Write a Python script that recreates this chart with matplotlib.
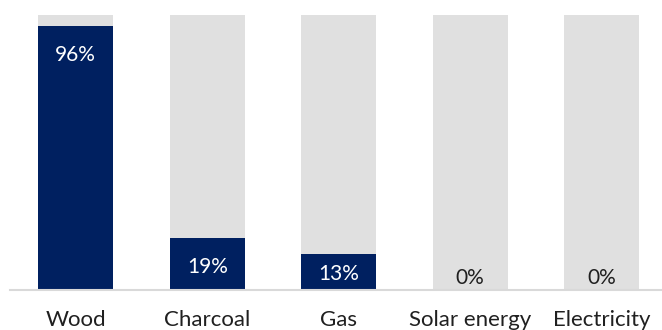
import matplotlib
matplotlib.use('Agg')
import matplotlib.pyplot as plt

categories = ['Wood', 'Charcoal', 'Gas', 'Solar energy', 'Electricity']
shares = [96, 19, 13, 0, 0]
full = [100, 100, 100, 100, 100]

navy = '#002060'
grey = '#e0e0e0'

plt.rcParams['font.family'] = ['Lato', 'DejaVu Sans']

fig = plt.figure(figsize=(6.62, 3.30), dpi=100)
# axes spans from the baseline up to the top of the background bars
ax = fig.add_axes([10 / 662, 40 / 330, 657.5 / 662, 275 / 330])

x = range(len(categories))
ax.bar(x, full, width=0.57, color=grey, zorder=1)
ax.bar(x, shares, width=0.57, color=navy, zorder=2)

for i, v in enumerate(shares):
    if v > 0:
        ax.text(i, max(v - 10.5, 6), '%d%%' % v, ha='center', va='center',
                color='white', fontsize=15, zorder=3)
    else:
        ax.text(i, 4.5, '%d%%' % v, ha='center', va='center',
                color='#202020', fontsize=15, zorder=3)

ax.set_xlim(-0.5, len(categories) - 0.5)
ax.set_ylim(0, 100)
ax.set_xticks(list(x))
ax.set_xticklabels(categories, fontsize=16, color='#202020')
ax.tick_params(axis='x', length=0, pad=14.5)
ax.set_yticks([])
for s in ['top', 'right', 'left']:
    ax.spines[s].set_visible(False)
ax.spines['bottom'].set_color('#d9d9d9')
ax.spines['bottom'].set_linewidth(1.5)
ax.spines['bottom'].set_clip_on(False)

fig.savefig('out.png', dpi=100)
